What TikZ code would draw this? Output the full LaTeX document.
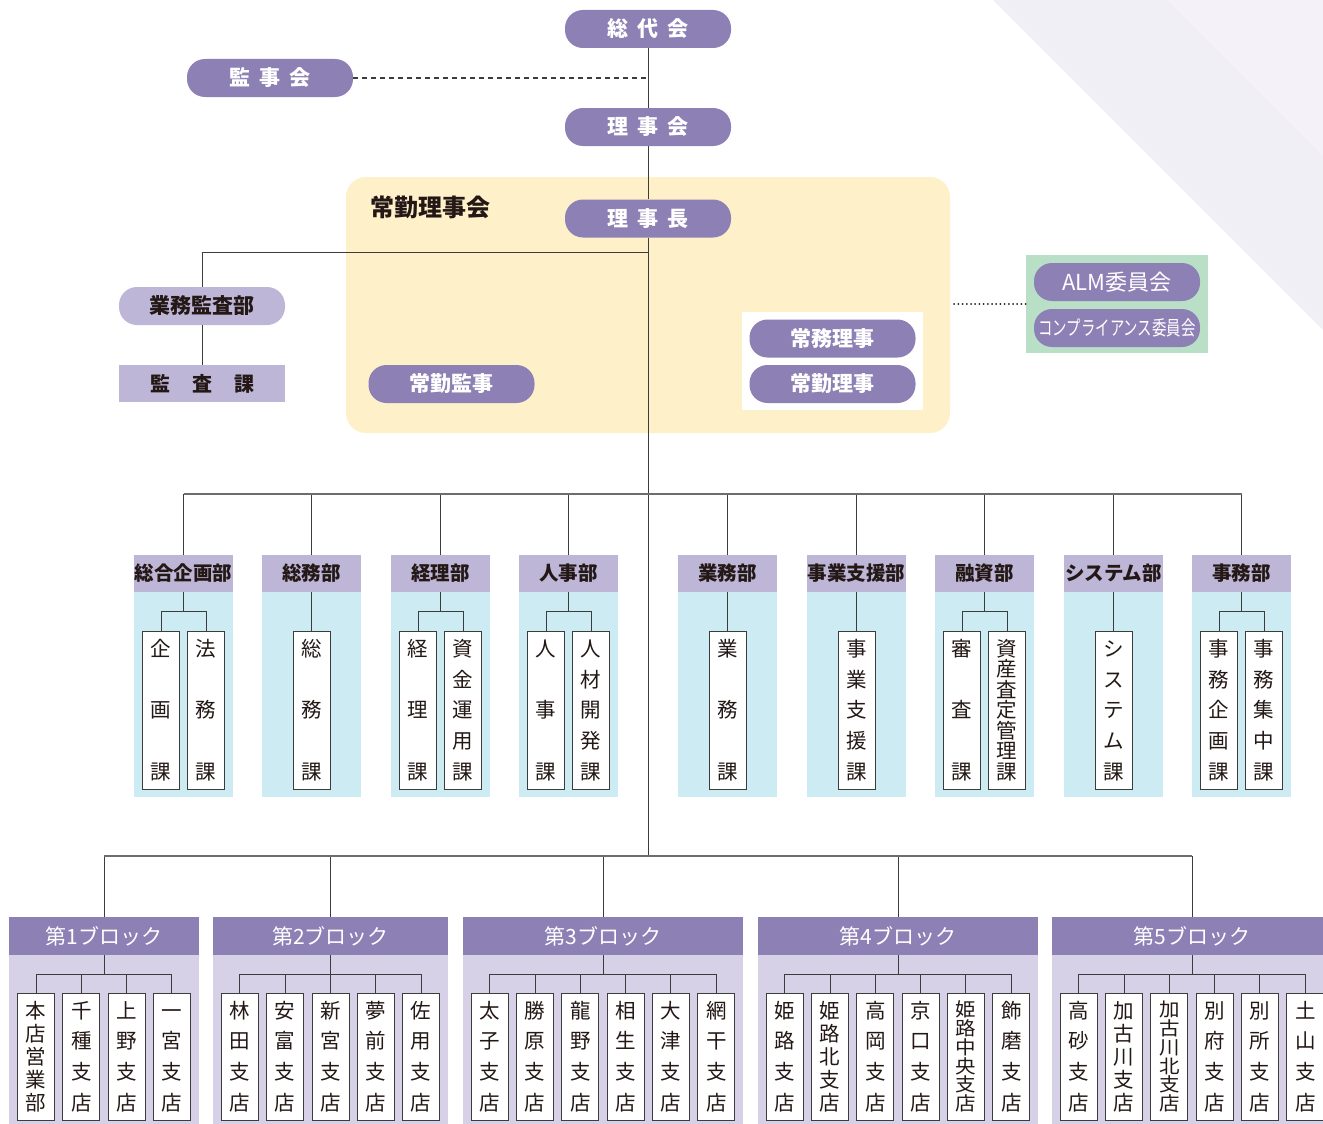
\documentclass[tikz,border=0pt]{standalone}
\usepackage{fontspec}
\setmainfont{Noto Sans CJK JP}
\usepackage{xcolor}
\definecolor{cPurple}{HTML}{8D80B5}
\definecolor{cLilac}{HTML}{BDB6D7}
\definecolor{cSky}{HTML}{CCEBF2}
\definecolor{cMist}{HTML}{D6D1E6}
\definecolor{cCream}{HTML}{FEF0C9}
\definecolor{cMint}{HTML}{B9E0C7}
\definecolor{cBg}{HTML}{F1EFF6}
\definecolor{cBgLight}{HTML}{F4F2F8}
\definecolor{cLine}{HTML}{3C3C3C}
\definecolor{cInk}{HTML}{231815}
\usepackage{tikz}
\usetikzlibrary{positioning,calc}

% 縦書きの文字列：一文字ずつ積み、上下端に合わせて均等に割り付ける
% （文字数が多いときは字を縦につぶして収める）
\newcount\tatecount
\newdimen\tateh
\def\tatecountloop#1{\ifx\relax#1\else\advance\tatecount1
  \expandafter\tatecountloop\fi}
\def\tateloop#1{\ifx\relax#1\else\tatesep
  \gdef\tatesep{\vskip 0pt plus 1fill minus 1fill}%
  \hbox to 1em{\vrule height .88\tateh depth .12\tateh width 0pt%
    \hss\scalebox{1}[\tatescale]{#1}\hss}%
  \expandafter\tateloop\fi}
\newcommand{\tatestack}[2]{%
  \tatecount=0 \expandafter\tatecountloop#2\relax
  \tateh=\dimexpr(#1+.12em)/\tatecount\relax
  \ifdim\tateh>1em \tateh=1em \fi
  \pgfmathparse{\the\tateh/\the\dimexpr1em\relax}%
  \let\tatescale\pgfmathresult
  \vbox to #1{\offinterlineskip
    \gdef\tatesep{}\expandafter\tateloop#2\relax}}

\tikzset{
  node-pill/.style={fill=cPurple,text=white,rounded corners=18pt,
    minimum width=166pt,minimum height=38pt,inner sep=0pt,
    font=\fontsize{21}{24}\selectfont\bfseries},
  node-pill-light/.style={node-pill,fill=cLilac,text=cInk},
  node-frame/.style={inner sep=0pt,minimum width=182pt,minimum height=98pt},
  node-dept/.style={fill=cLilac,text=cInk,minimum width=99pt,
    minimum height=37pt,inner sep=0pt,
    font=\fontsize{19.5}{22}\selectfont\bfseries},
  node-dept-body/.style={fill=cSky,minimum width=99pt,
    minimum height=205pt,inner sep=0pt},
  node-sect/.style={draw=cLine,fill=white,line width=1pt,
    minimum width=37pt,minimum height=158pt,inner sep=0pt,text=cInk,
    font=\fontsize{20.5}{20.5}\selectfont},
  node-branch/.style={node-sect,minimum height=127pt},
  node-block/.style={fill=cPurple,text=white,minimum height=38pt,
    inner sep=0pt,font=\fontsize{21}{24}\selectfont},
  node-block-body/.style={fill=cMist,inner sep=0pt,minimum height=175pt},
  line-tree/.style={draw=cLine,line width=1pt},
  line-bus/.style={draw=cLine!75,line width=1.6pt},
  line-dash/.style={draw=cLine,line width=1.2pt,dash pattern=on 5pt off 4pt},
  line-dot/.style={draw=cInk,line width=2pt,dash pattern=on 0pt off 4.2pt,
    line cap=round},
}

\begin{document}
\begin{tikzpicture}[x=1pt,y=-1pt]
  \useasboundingbox (0,0) rectangle (1323,1124);
  \clip (0,0) rectangle (1323,1124);
  \fill[white] (0,0) rectangle (1323,1124);
  % 右上の背景
  \fill[cBg] (993,0) -- (1323,0) -- (1323,330) -- cycle;
  \fill[cBgLight] (1167,0) -- (1323,0) -- (1323,156) -- cycle;

  % 常勤理事会
  \node[fill=cCream,rounded corners=20pt,minimum width=604pt,
    minimum height=256pt] (jokin) at (648,305) {};
  \node[anchor=west,text=cInk,font=\fontsize{24}{28}\selectfont\bfseries]
    (jokin-title) at (367,207) {常勤理事会};
  \node[node-frame,fill=white,minimum width=181pt] (jokin-inner) at (832.5,361) {};

  % 上位機関
  \node[node-pill] (sodai) at (648,29) {総\hspace{9pt}代\hspace{9pt}会};
  \node[node-pill] (kanjikai) at (270,78) {監\hspace{9pt}事\hspace{9pt}会};
  \node[node-pill] (rijikai) at (648,127) {理\hspace{9pt}事\hspace{9pt}会};
  \node[node-pill] (rijicho) at (648,218.5) {理\hspace{9pt}事\hspace{9pt}長};
  \node[node-pill] (kanji) at (451.5,384) {常勤監事};
  \node[node-pill] (jomu) at (832.5,338.5) {常務理事};
  \node[node-pill] (jokin-riji) at (832.5,384) {常勤理事};

  % 業務監査部
  \node[node-pill-light] (kansabu) at (202,306) {業務監査部};
  \node[fill=cLilac,text=cInk,minimum width=166pt,minimum height=37pt,
    inner sep=0pt,font=\fontsize{20}{24}\selectfont\bfseries]
    (kansaka) at (202,383.5) {監\hspace{22pt}査\hspace{22pt}課};

  % 委員会
  \node[node-frame,fill=cMint] (iinkai) at (1117,304) {};
  \node[node-pill,font=\fontsize{22}{24}\selectfont] (alm) at (1117,282) {ALM委員会};
  \node[node-pill,font=\fontsize{20}{22}\selectfont] (compliance)
    at (1117,328) {\scalebox{0.72}[1]{コンプライアンス委員会}};

  \coordinate (audit-fork) at (648,252);
  \coordinate (dept-bus) at (648,494);
  \coordinate (block-bus) at (648,856);

  \draw[line-tree] (sodai) -- (rijikai);
  \draw[line-tree] (rijikai) -- (rijicho);
  \draw[line-tree] (rijicho) -- (block-bus);
  \draw[line-dash] (kanjikai.east) -- (kanjikai.east -| sodai.south);
  \draw[line-tree] (audit-fork) -| (kansabu.north);
  \draw[line-tree] (kansabu) -- (kansaka);
  \draw[line-dot] ($(jokin.east |- iinkai.west)+(4,0)$) -- (iinkai.west);

  % 部
  \foreach \dx/\dname/\did in {183.5/総合企画部/kikaku,311.5/総務部/somu,
      440.5/経理部/keiri,568.5/人事部/jinji,727.5/業務部/gyomu,
      856.5/事業支援部/shien,984.5/融資部/yushi,1113.5/システム部/system,
      1241.5/事務部/jimu}{
    \node[node-dept-body] (\did-body) at (\dx,694.5) {};
    \node[node-dept] (\did) at (\dx,573.5) {\dname};
    \draw[line-tree] (\did.north) -- (\did.north |- dept-bus);
  }
  \draw[line-bus] (kikaku.north |- dept-bus) -- (jimu.north |- dept-bus);

  % 課
  \foreach \sx/\sname/\sid/\sdept in {161/企画課/kikakuka/kikaku,
      206/法務課/homuka/kikaku,311.5/総務課/somuka/somu,
      418/経理課/keirika/keiri,463/資金運用課/shikinka/keiri,
      546/人事課/jinjika/jinji,591/人材開発課/jinzaika/jinji,
      727.5/業務課/gyomuka/gyomu,856.5/事業支援課/shienka/shien,
      962/審査課/shinsaka/yushi,1007/資産査定管理課/satei/yushi,
      1113.5/システム課/systemka/system,
      1219/事務企画課/jimukikaku/jimu,1264/事務集中課/jimushuchu/jimu}{
    \node[node-sect] (\sid) at (\sx,710) {\tatestack{140.6pt}{\sname}};
    \draw[line-tree] (\sdept.south) -- ++(0,19) -| (\sid.north);
  }

  % ブロック・支店
  \foreach \bx/\bw/\bid/\blabel/\bn/\blist in {
      104/190/b1/第1ブロック/4/{本店営業部,千種支店,上野支店,一宮支店},
      330.5/235/b2/第2ブロック/5/{林田支店,安富支店,新宮支店,夢前支店,佐用支店},
      603/280/b3/第3ブロック/6/{太子支店,勝原支店,龍野支店,相生支店,大津支店,網干支店},
      898/280/b4/第4ブロック/6/{姫路支店,姫路北支店,高岡支店,京口支店,姫路中央支店,飾磨支店},
      1192/280/b5/第5ブロック/6/{高砂支店,加古川支店,加古川北支店,別府支店,別所支店,土山支店}}{
    \node[node-block-body,minimum width=\bw pt] (\bid-body) at (\bx,1042.5) {};
    \node[node-block,minimum width=\bw pt] (\bid) at (\bx,936) {\blabel};
    \draw[line-tree] (\bid.north) -- (\bid.north |- block-bus);
    \foreach \brname [count=\bj] in \blist {
      \pgfmathsetmacro{\brx}{\bx+(\bj-(\bn+1)/2)*45.3}
      \node[node-branch] (\bid-\bj) at (\brx,1056.5)
        {\tatestack{110.6pt}{\brname}};
      \draw[line-tree] (\bid.south) -- ++(0,19) -| (\bid-\bj.north);
    }
  }
  \draw[line-bus] (b1.north |- block-bus) -- (b5.north |- block-bus);
\end{tikzpicture}
\end{document}
